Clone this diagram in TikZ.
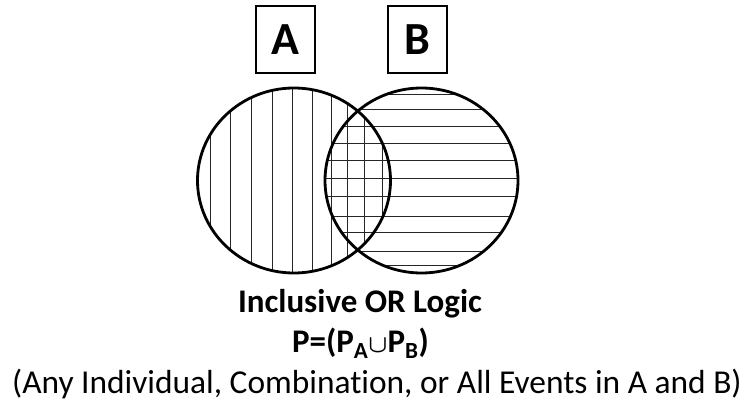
\documentclass[tikz,border=0pt]{standalone}
\usepackage{fontspec}
\setmainfont{Carlito}[Ligatures=NoCommon]
\begin{document}
\begin{tikzpicture}[x=1pt,y=-1pt,
  outline/.style={line width=2.8pt},
  hatch/.style={line width=1pt, black!85},
  labelbox/.style={draw, line width=2pt, minimum width=59pt, minimum height=67pt,
    inner sep=0pt, font=\bfseries\fontsize{46}{46}\selectfont},
  caption/.style={anchor=base, inner sep=0pt, font=\fontsize{33.4}{40}\selectfont},
  boldcaption/.style={caption, font=\bfseries\fontsize{33}{40}\selectfont}]
\useasboundingbox (0,0) rectangle (745,404);

% set labels
\node[labelbox] (boxA) at (285.5,39.5) {A};
\node[labelbox] (boxB) at (417,39.5) {B};

% vertical hatching inside set A
\begin{scope}
  \clip (294,180.5) ellipse [x radius=96.5pt, y radius=92.5pt];
  \foreach \xx in {210.7,230,251,272.7,292.7,312,331.7,347.7,364.3,382.7}
    \draw[hatch] (\xx,80) -- (\xx,280);
\end{scope}

% horizontal hatching inside set B
\begin{scope}
  \clip (421.5,180.5) ellipse [x radius=96.5pt, y radius=92.5pt];
  \foreach \yy in {95,110,126.7,143.3,160,178.3,196.7,216,232.3,251.7,265.7}
    \draw[hatch] (320,\yy) -- (525,\yy);
\end{scope}

% set outlines
\draw[outline] (294,180.5) ellipse [x radius=96.5pt, y radius=92.5pt];
\draw[outline] (421.5,180.5) ellipse [x radius=96.5pt, y radius=92.5pt];

% captions
\node[boldcaption] (title) at (360,312) {Inclusive OR Logic};
\node[boldcaption] (formula) at (360.5,352) {P=(P\textsubscript{A}{\boldmath$\cup$}P\textsubscript{B})};
\node[caption] (note) at (377,393) {(Any Individual, Combination, or All Events in A and B)};
\end{tikzpicture}
\end{document}
